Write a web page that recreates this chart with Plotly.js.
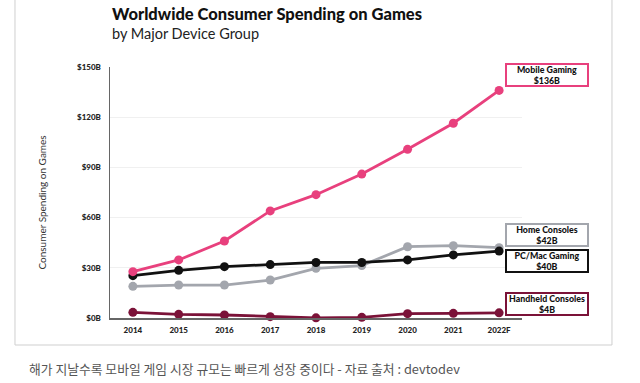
<!DOCTYPE html>
<html>
<head>
<meta charset="utf-8">
<script src="https://cdn.plot.ly/plotly-3.0.1.min.js"></script>
<style>
html,body{margin:0;padding:0;background:#fff;}
#chart{width:640px;height:383px;}
</style>
</head>
<body>
<div id="chart"></div>
<script>
const years = ["2014","2015","2016","2017","2018","2019","2020","2021","2022F"];
const mobileGaming = [27.7, 34.7, 46, 64, 73.7, 86, 100.8, 116.4, 136];
const pcMacGaming = [25.3, 28.5, 30.7, 31.9, 33.2, 33.2, 34.7, 37.7, 40];
const homeConsoles = [18.9, 19.7, 19.7, 22.7, 29.7, 31.3, 42.6, 43.2, 42];
const handheldConsoles = [3.4, 2.2, 1.8, 0.8, 0.1, 0.4, 2.6, 2.8, 3.1];
const yTickVals = [0, 30, 60, 90, 120, 150];
const yTickText = ["$0B", "$30B", "$60B", "$90B", "$120B", "$150B"];
const seriesNames = ["Mobile Gaming", "Home Consoles", "PC/Mac Gaming", "Handheld Consoles"];
const seriesLabels = ["$136B", "$42B", "$40B", "$4B"];
const labelY = [145.2, 49.9, 33.8, 8.1];

const colors = {mobile:"#e8407d", home:"#a3a6ad", pc:"#111111", handheld:"#7b1238"};

function line(name, y, color){
  return {x: years, y: y, name: name, type: "scatter", mode: "lines+markers",
    line: {color: color, width: 2.8}, marker: {color: color, size: 9},
    cliponaxis: false, hoverinfo: "skip"};
}
const data = [
  line("Handheld Consoles", handheldConsoles, colors.handheld),
  line("Home Consoles", homeConsoles, colors.home),
  line("PC/Mac Gaming", pcMacGaming, colors.pc),
  line("Mobile Gaming", mobileGaming, colors.mobile)
];

const boxColors = [colors.mobile, colors.home, colors.pc, colors.handheld];
const annotations = seriesNames.map((n, i) => ({
  xref: "paper", yref: "y", x: 1.0595, y: labelY[i],
  xanchor: "center", yanchor: "middle", showarrow: false,
  text: n + "<br>" + seriesLabels[i],
  font: {family: "Lato, sans-serif", size: 8.8, color: "#111", weight: 900},
  bordercolor: boxColors[i], borderwidth: 2, borderpad: 1, bgcolor: "#fff",
  width: 78, height: 18, align: "center"
}));
annotations.push(
  {xref:"paper", yref:"paper", x:0, y:1.212, xanchor:"left", yanchor:"middle", showarrow:false,
   text:"Worldwide Consumer Spending on Games", font:{family:"Lato, sans-serif", size:16.5, color:"#111", weight:900}},
  {xref:"paper", yref:"paper", x:0, y:1.135, xanchor:"left", yanchor:"middle", showarrow:false,
   text:"by Major Device Group", font:{family:"Lato, sans-serif", size:14.5, color:"#222"}},
  {xref:"paper", yref:"paper", x:-0.165, y:0.46, xanchor:"center", yanchor:"middle", showarrow:false,
   textangle:-90, text:"Consumer Spending on Games", font:{family:"Lato, sans-serif", size:10, color:"#333"}},
  {xref:"paper", yref:"paper", x:-0.2015, y:-0.203, xanchor:"left", yanchor:"middle", showarrow:false,
   text:"해가 지날수록 모바일 게임 시장 규모는 빠르게 성장 중이다 - 자료 출처 : devtodev",
   font:{family:"'Noto Sans CJK KR', sans-serif", size:12.8, color:"#555"}}
);

const layout = {
  width: 640, height: 383,
  margin: {l: 110, r: 118, t: 67, b: 65},
  paper_bgcolor: "#fff", plot_bgcolor: "#fff",
  showlegend: false,
  xaxis: {type: "category", range: [-0.5, 8.5], showgrid: false, zeroline: false,
    showline: true, linecolor: "#666", linewidth: 1.5, ticks: "",
    tickfont: {family: "Lato, sans-serif", size: 8, color: "#222", weight: 900}, ticklabelstandoff: 4},
  yaxis: {range: [0, 150], tickvals: yTickVals, ticktext: yTickText, showgrid: true,
    gridcolor: "#f0f0f0", zeroline: false, showline: true, linecolor: "#666", linewidth: 1.5, ticks: "",
    tickfont: {family: "Lato, sans-serif", size: 8, color: "#222", weight: 900}, ticklabelstandoff: 6},
  annotations: annotations,
  shapes: [{type:"rect", xref:"paper", yref:"paper", x0:-0.2306, x1:1.2184, y0:-0.1076, y1:1.35,
    line:{color:"#cfcfcf", width:1}, fillcolor:"rgba(0,0,0,0)", layer:"below"}]
};
Plotly.newPlot("chart", data, layout, {staticPlot: true, displayModeBar: false});
</script>
</body>
</html>
